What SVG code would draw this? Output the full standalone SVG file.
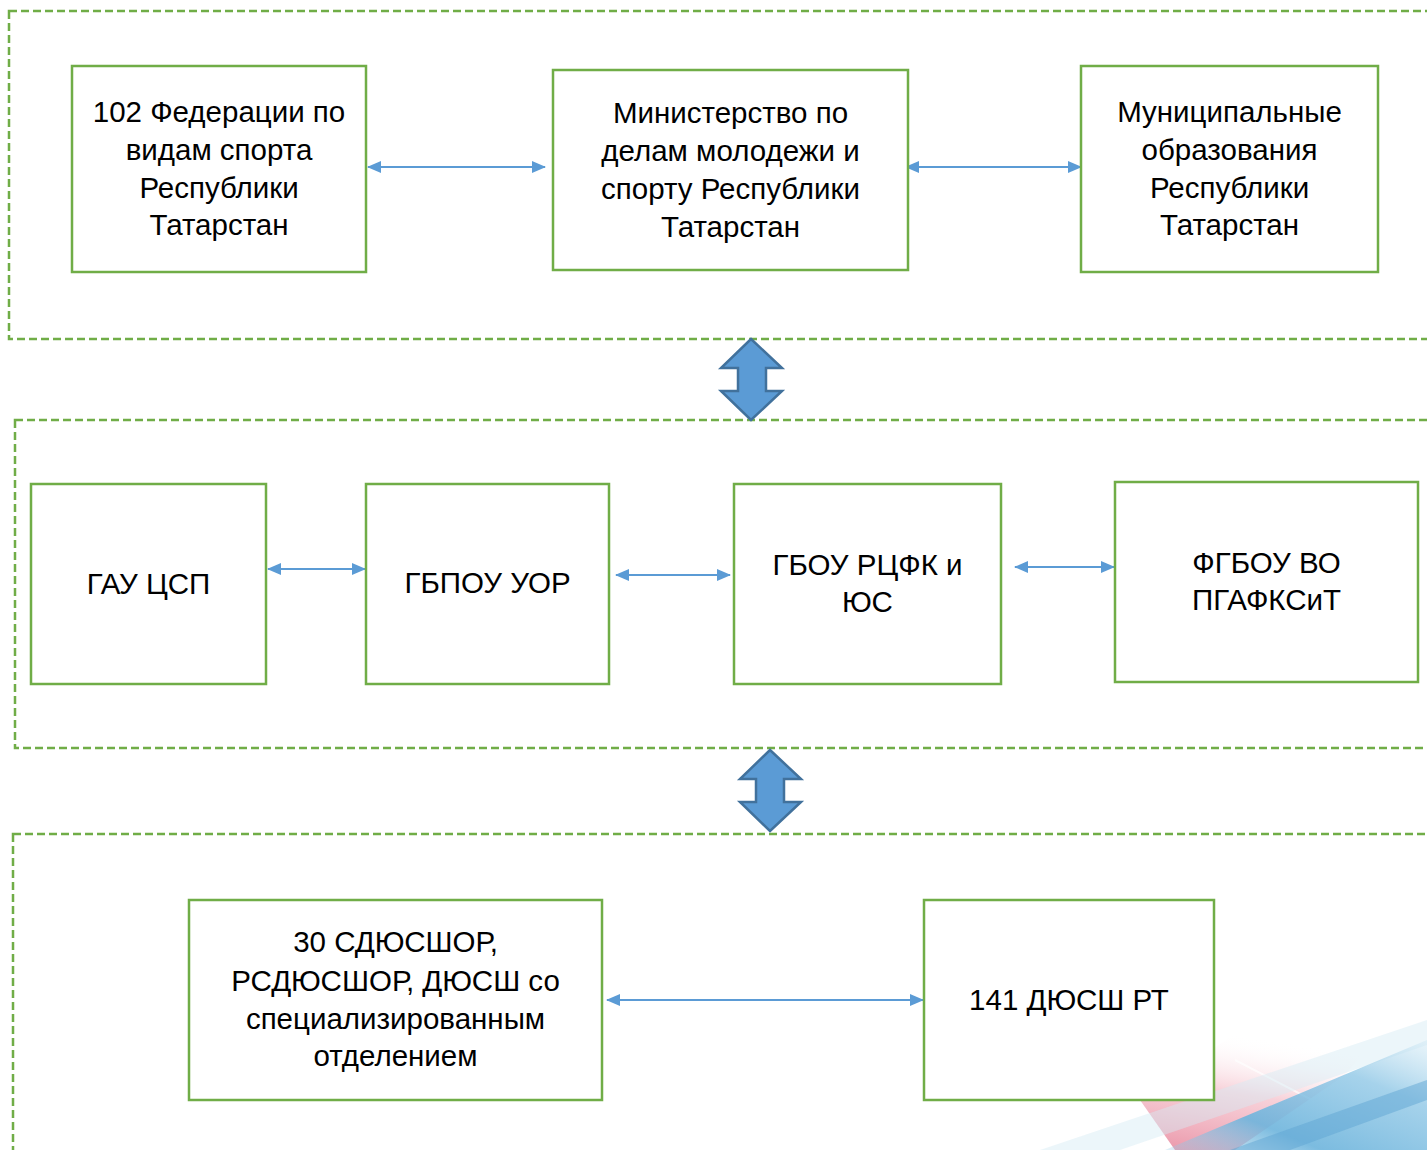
<svg xmlns="http://www.w3.org/2000/svg" width="1427" height="1150" viewBox="0 0 1427 1150">
<style>
.band{fill:none;stroke:#70AD47;stroke-width:2.5;stroke-dasharray:8 4}
.box{fill:#fff;stroke:#70AD47;stroke-width:2.5}
.t{font-family:"Liberation Sans",Arial,sans-serif;font-size:29.5px;fill:#000;text-anchor:middle}
.c{stroke:#5B9BD5;stroke-width:2;fill:none;marker-start:url(#ah);marker-end:url(#ah)}
.big{fill:#5B9BD5;stroke:#41719C;stroke-width:2.5;stroke-linejoin:miter}
</style>
<defs>
<marker id="ah" viewBox="0 0 14 12" refX="13" refY="6" markerWidth="14" markerHeight="12" markerUnits="userSpaceOnUse" orient="auto-start-reverse">
<path d="M0,0 L14,6 L0,12 Z" fill="#5B9BD5"/>
</marker>
<linearGradient id="gr" x1="0" y1="1" x2="0.3" y2="0">
<stop offset="0" stop-color="#E57A92" stop-opacity="0.8"/>
<stop offset="0.55" stop-color="#F2B3C0" stop-opacity="0.6"/>
<stop offset="1" stop-color="#fff" stop-opacity="0"/>
</linearGradient>
<linearGradient id="gb" x1="0" y1="1" x2="1" y2="0">
<stop offset="0" stop-color="#9CCDE8" stop-opacity="0.3"/>
<stop offset="0.3" stop-color="#6DB4DC" stop-opacity="0.9"/>
<stop offset="0.7" stop-color="#8FC7E6" stop-opacity="0.8"/>
<stop offset="1" stop-color="#D3EAF5" stop-opacity="0.5"/>
</linearGradient>
</defs>
<g id="decor">
<polygon points="1140,1100 1240,1030 1370,1045 1345,1075 1235,1150 1175,1150" fill="url(#gr)"/>
<line x1="1235" y1="1060" x2="1312" y2="1100" stroke="#fff" stroke-width="2" opacity="0.7"/>
<polygon points="1040,1150 1427,1020 1427,1045 1120,1150" fill="#D5EAF5" opacity="0.45"/>
<polygon points="1165,1150 1427,1040 1427,1150" fill="url(#gb)"/>
<polygon points="1230,1150 1427,1080 1427,1100 1290,1150" fill="#5FA6D4" opacity="0.5"/>
</g>
<g id="bands">
<rect class="band" x="9" y="11" width="1440" height="328"/>
<rect class="band" x="15" y="420" width="1440" height="328"/>
<rect class="band" x="13" y="834" width="1440" height="340"/>
</g>
<g id="connectors">
<line class="c" x1="368" y1="167" x2="545" y2="167"/>
<line class="c" x1="906" y1="167" x2="1081" y2="167"/>
<line class="c" x1="268" y1="569" x2="365" y2="569"/>
<line class="c" x1="616" y1="575" x2="730" y2="575"/>
<line class="c" x1="1015" y1="567" x2="1114" y2="567"/>
<line class="c" x1="607" y1="1000" x2="923" y2="1000"/>
<path class="big" d="M751,339 L782,368 L766,368 L766,391 L782,391 L751,420 L721,391 L738,391 L738,368 L721,368 Z"/>
<path class="big" d="M770,750 L801,779 L784,779 L784,802 L801,802 L770,831 L740,802 L756,802 L756,779 L740,779 Z"/>
</g>
<g id="n1"><rect class="box" x="72" y="66" width="294" height="206"/>
<text class="t" x="219" y="122">102 Федерации по</text><text class="t" x="219" y="160">видам спорта</text><text class="t" x="219" y="197.5">Республики</text><text class="t" x="219" y="235">Татарстан</text></g>
<g id="n2"><rect class="box" x="553" y="70" width="355" height="200"/>
<text class="t" x="730.5" y="122.5">Министерство по</text><text class="t" x="730.5" y="160.5">делам молодежи и</text><text class="t" x="730.5" y="198.5">спорту Республики</text><text class="t" x="730.5" y="236.5">Татарстан</text></g>
<g id="n3"><rect class="box" x="1081" y="66" width="297" height="206"/>
<text class="t" x="1229.5" y="122">Муниципальные</text><text class="t" x="1229.5" y="160">образования</text><text class="t" x="1229.5" y="197.5">Республики</text><text class="t" x="1229.5" y="235">Татарстан</text></g>
<g id="n4"><rect class="box" x="31" y="484" width="235" height="200"/>
<text class="t" x="148.5" y="594">ГАУ ЦСП</text></g>
<g id="n5"><rect class="box" x="366" y="484" width="243" height="200"/>
<text class="t" x="487.5" y="593">ГБПОУ УОР</text></g>
<g id="n6"><rect class="box" x="734" y="484" width="267" height="200"/>
<text class="t" x="867.5" y="575">ГБОУ РЦФК и</text><text class="t" x="867.5" y="612">ЮС</text></g>
<g id="n7"><rect class="box" x="1115" y="482" width="303" height="200"/>
<text class="t" x="1266.5" y="573">ФГБОУ ВО</text><text class="t" x="1266.5" y="610">ПГАФКСиТ</text></g>
<g id="n8"><rect class="box" x="189" y="900" width="413" height="200"/>
<text class="t" x="395.5" y="952">30 СДЮСШОР,</text><text class="t" x="395.5" y="991">РСДЮСШОР, ДЮСШ со</text><text class="t" x="395.5" y="1029">специализированным</text><text class="t" x="395.5" y="1066">отделением</text></g>
<g id="n9"><rect class="box" x="924" y="900" width="290" height="200"/>
<text class="t" x="1069" y="1010">141 ДЮСШ РТ</text></g>
</svg>
